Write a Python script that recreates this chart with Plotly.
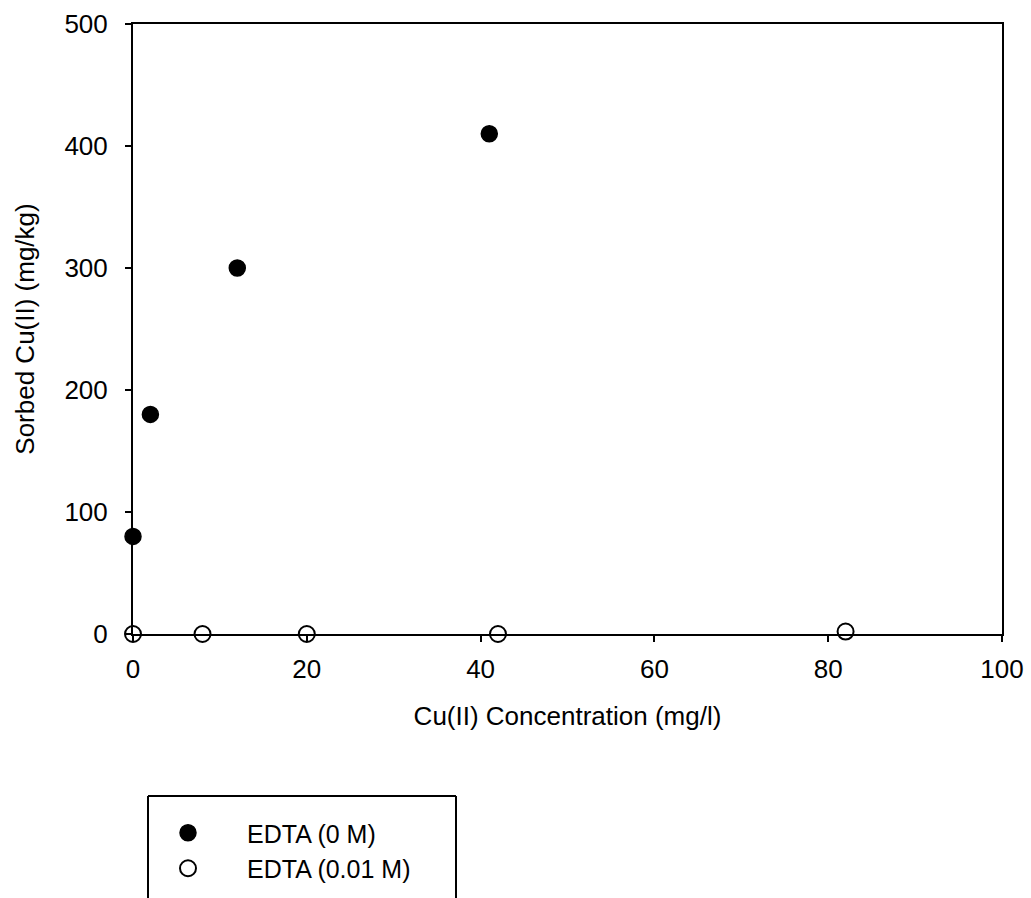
import plotly.graph_objects as go

# data
edta0_x = [0, 2, 12, 41]
edta0_y = [80, 180, 300, 410]
edta001_x = [0, 8, 20, 42, 82]
edta001_y = [0, 0, 0, 0, 2]
series_names = ["EDTA (0 M)", "EDTA (0.01 M)"]
x_ticks = [0, 20, 40, 60, 80, 100]
y_ticks = [0, 100, 200, 300, 400, 500]

W, H = 1031, 898
L, R, T, B = 133, 29, 24, 264
pw, ph = W - L - R, H - T - B

def px_x(p):
    return (p - L) / pw

def px_y(p):
    return (H - B - p) / ph

font = dict(family="Liberation Sans, Arial, sans-serif", size=26, color="black")
legend_font = dict(family="Liberation Sans, Arial, sans-serif", size=25, color="black")

fig = go.Figure()
fig.add_trace(go.Scatter(x=edta0_x, y=edta0_y, mode="markers", name=series_names[0],
                         marker=dict(size=16, color="black", line=dict(color="black", width=1.5)),
                         cliponaxis=False))
fig.add_trace(go.Scatter(x=edta001_x, y=edta001_y, mode="markers", name=series_names[1],
                         marker=dict(size=16, color="white", line=dict(color="black", width=2)),
                         cliponaxis=False))

axis_common = dict(showline=True, linecolor="black", linewidth=2, mirror=True,
                   ticks="outside", ticklen=6, tickwidth=2, tickcolor="black",
                   showgrid=False, zeroline=False, tickfont=font)

fig.update_layout(
    width=W, height=H,
    margin=dict(l=L, r=R, t=T, b=B, autoexpand=False),
    paper_bgcolor="white", plot_bgcolor="white",
    font=font,
    xaxis=dict(range=[0, 100], tickvals=x_ticks, ticklabelstandoff=5,
               title=dict(text="Cu(II) Concentration (mg/l)", font=font, standoff=24),
               **axis_common),
    yaxis=dict(range=[0, 500], tickvals=y_ticks, ticklabelstandoff=12,
               title=dict(text="Sorbed Cu(II) (mg/kg)", font=font, standoff=22),
               **axis_common),
    showlegend=True,
    legend=dict(x=px_x(129), y=px_y(810), xanchor="left", yanchor="top",
                bgcolor="rgba(0,0,0,0)", borderwidth=0, font=legend_font,
                itemwidth=108, tracegroupgap=0),
    shapes=[
        dict(type="line", xref="paper", yref="paper", x0=px_x(148), x1=px_x(456),
             y0=px_y(796), y1=px_y(796), line=dict(color="black", width=2)),
        dict(type="line", xref="paper", yref="paper", x0=px_x(148), x1=px_x(148),
             y0=px_y(796), y1=px_y(900), line=dict(color="black", width=2)),
        dict(type="line", xref="paper", yref="paper", x0=px_x(456), x1=px_x(456),
             y0=px_y(796), y1=px_y(900), line=dict(color="black", width=2)),
    ],
)

fig.write_html("out.html")
